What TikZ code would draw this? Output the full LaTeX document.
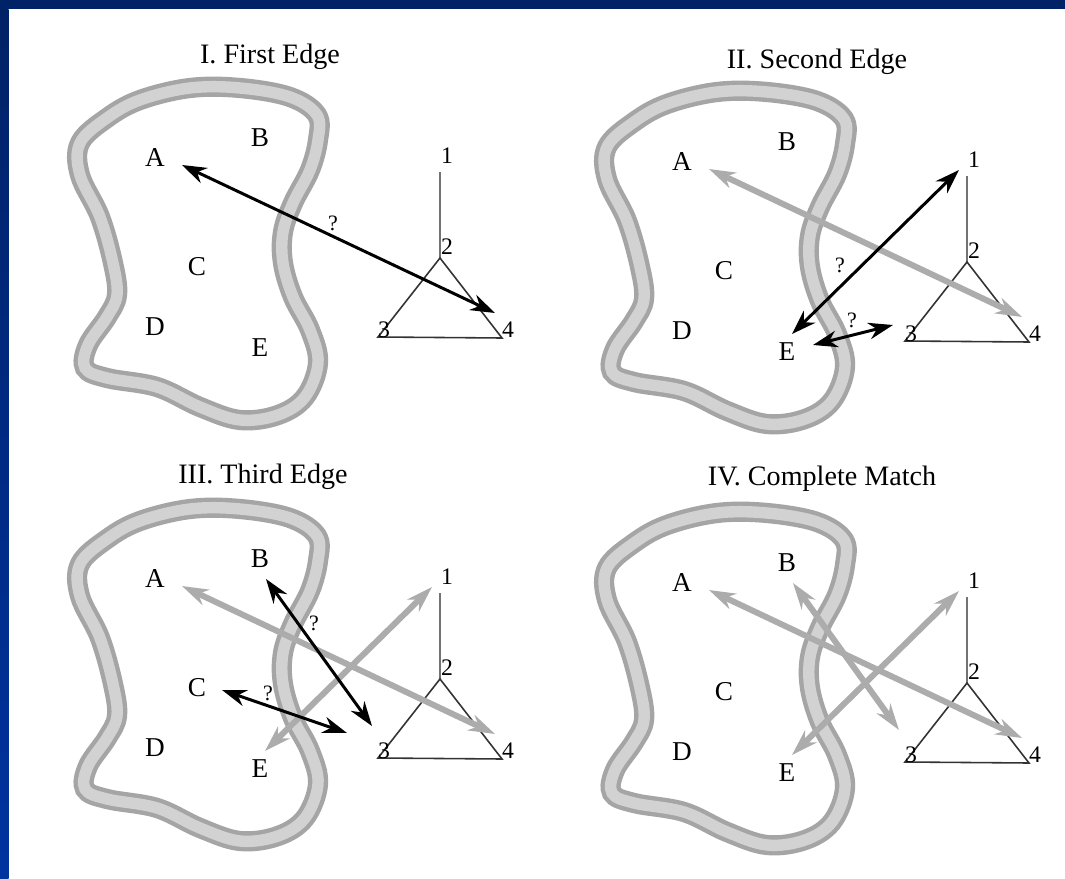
\documentclass[tikz,border=0pt]{standalone}
\usepackage{fontspec}
\setmainfont{Liberation Serif}
\usetikzlibrary{arrows.meta}
\definecolor{navybar}{RGB}{0,34,102}
\definecolor{bluebar}{RGB}{0,51,160}
\definecolor{bandout}{RGB}{165,165,165}
\definecolor{bandin}{RGB}{210,210,210}
\definecolor{grayarrow}{RGB}{172,172,172}
\tikzset{
  lbl/.style={font=\fontsize{15.5}{15.5}\selectfont, inner sep=0pt},
  num/.style={font=\fontsize{13.5}{13.5}\selectfont, inner sep=0pt},
  qm/.style={font=\fontsize{12.5}{12.5}\selectfont, inner sep=0pt},
  ttl/.style={font=\fontsize{16}{16}\selectfont, inner sep=0pt, anchor=base},
  bandouter/.style={line width=11.5pt, bandout},
  bandinner/.style={line width=6.5pt, bandin},
  spoke/.style={line width=0.8pt, black!55},
  tri/.style={line width=0.9pt, black!80},
  match/.style={line width=1.7pt, black, {Stealth[length=14pt,width=9.5pt]}-{Stealth[length=14pt,width=9.5pt]}},
  done/.style={line width=3.4pt, grayarrow, {Stealth[length=15pt,width=9.5pt]}-{Stealth[length=15pt,width=9.5pt]}},
}
\begin{document}
\begin{tikzpicture}[x=0.02cm,y=-0.02cm]
\useasboundingbox (0,0) rectangle (1065,879);
\fill[white] (0,0) rectangle (1065,879);
\fill[navybar] (0,0) rectangle (1065,9);
\shade[top color=navybar,bottom color=bluebar] (0,9) rectangle (8.5,879);
\foreach \p/\dx/\dy in {p1/0/0,p2/527/4,p3/0/421,p4/527/425}{
  \begin{scope}[shift={(\dx,\dy)}]
    \draw[bandouter] plot[smooth cycle,tension=0.6] coordinates {(80,143) (107,118) (140,100) (190,88) (240,88) (290,97) (317,115) (318,140) (310,170) (293,203) (283,232) (283,263) (293,297) (310,330) (318,363) (305,397) (278,415) (240,420) (200,407) (157,387) (107,378) (85,368) (88,345) (107,317) (117,295) (113,263) (100,217) (80,175)};
    \draw[bandinner] plot[smooth cycle,tension=0.6] coordinates {(80,143) (107,118) (140,100) (190,88) (240,88) (290,97) (317,115) (318,140) (310,170) (293,203) (283,232) (283,263) (293,297) (310,330) (318,363) (305,397) (278,415) (240,420) (200,407) (157,387) (107,378) (85,368) (88,345) (107,317) (117,295) (113,263) (100,217) (80,175)};
    \node[lbl] (\p-A) at (155,158) {A};
    \node[lbl] (\p-B) at (260,138) {B};
    \node[lbl] (\p-C) at (197,267) {C};
    \node[lbl] (\p-D) at (155,327) {D};
    \node[lbl] (\p-E) at (260,348) {E};
    \coordinate (\p-v1) at (440,172);
    \coordinate (\p-v2) at (440,258);
    \coordinate (\p-v3) at (378,337);
    \coordinate (\p-v4) at (502,338);
    \draw[spoke] (\p-v1) -- (\p-v2);
    \draw[tri] (\p-v2) -- (\p-v3) -- (\p-v4) -- cycle;
    \node[num] (\p-n1) at (447,156) {1};
    \node[num] (\p-n2) at (447,247) {2};
    \node[num] (\p-n3) at (384,330) {3};
    \node[num] (\p-n4) at (508,330) {4};
    \coordinate (\p-a) at (182,165);
    \coordinate (\p-f) at (495,313);
    \coordinate (\p-e1) at (265,330);
    \coordinate (\p-o) at (432,166);
    \coordinate (\p-e3) at (286,341);
    \coordinate (\p-t3) at (366,321);
    \coordinate (\p-b) at (266,158);
    \coordinate (\p-bt) at (372,305);
    \coordinate (\p-c) at (222,269);
    \coordinate (\p-ct) at (347,312);
  \end{scope}
}
% titles
\node[ttl] (t1) at (270,63) {I. First Edge};
\node[ttl] (t2) at (817,68) {II. Second Edge};
\node[ttl] (t3) at (263,483) {III. Third Edge};
\node[ttl] (t4) at (822,485) {IV. Complete Match};
% panel I
\draw[match] (p1-a) -- (p1-f);
\node[qm] (q1) at (333,223) {?};
% panel II
\draw[done] (p2-a) -- (p2-f);
\draw[match] (p2-e1) -- (p2-o);
\draw[match] (p2-e3) -- (p2-t3);
\node[qm] (q2) at (840,265) {?};
\node[qm] (q3) at (852,320) {?};
% panel III
\draw[done] (p3-a) -- (p3-f);
\draw[done] (p3-e1) -- (p3-o);
\draw[match] (p3-b) -- (p3-bt);
\draw[match] (p3-c) -- (p3-ct);
\node[qm] (q4) at (314,623) {?};
\node[qm] (q5) at (268,693) {?};
% panel IV
\draw[done] (p4-a) -- (p4-f);
\draw[done] (p4-e1) -- (p4-o);
\draw[done] (p4-b) -- (p4-bt);
\end{tikzpicture}
\end{document}
